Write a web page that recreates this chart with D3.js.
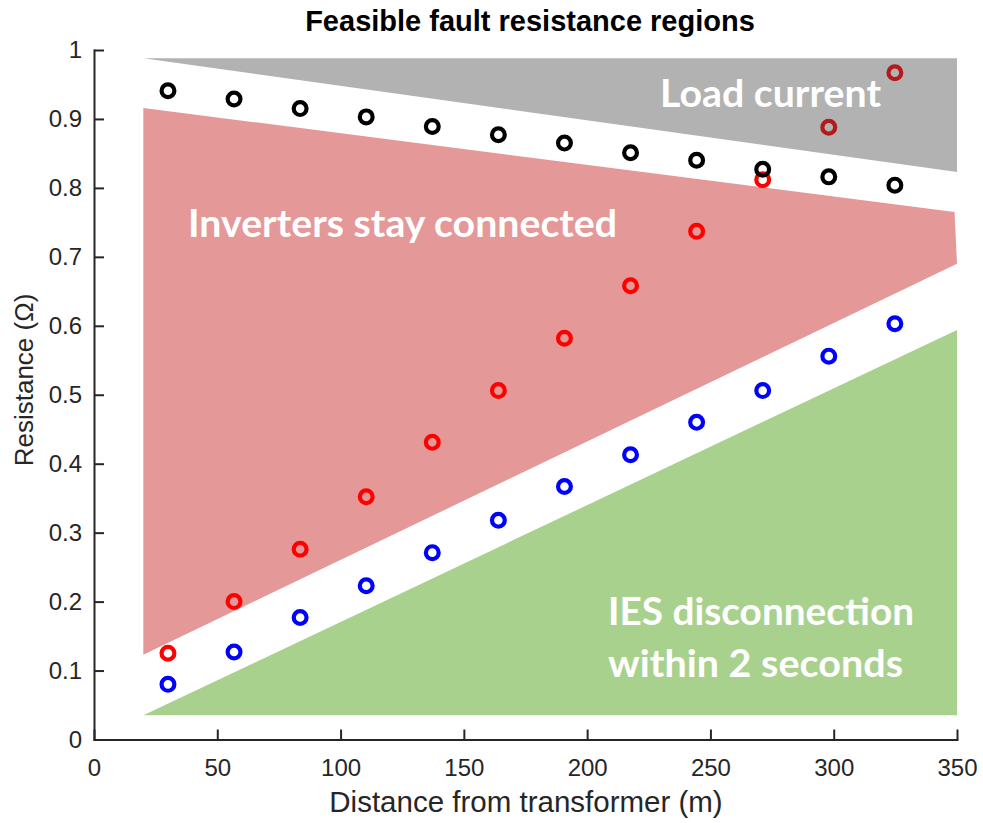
<!DOCTYPE html>
<html>
<head>
<meta charset="utf-8">
<script src="https://cdn.jsdelivr.net/npm/d3@7"></script>
<style>
  body { margin: 0; background: #fff; }
  .axis path, .axis line { stroke: #262626; stroke-width: 2px; }
  .axis text { fill: #262626; font-family: "Liberation Sans", Arial, sans-serif; font-size: 24px; }
  .region-label { fill: #fff; font-family: Lato, "Open Sans", sans-serif; font-weight: 700; }
</style>
</head>
<body>
<script>
// distances of the simulated fault points (m)
var distances = [30, 56.8, 83.6, 110.4, 137.2, 164, 190.8, 217.6, 244.4, 271.2, 298, 324.8];
// resistance thresholds (ohm)
var loadLimit = [0.941, 0.929, 0.915, 0.903, 0.889, 0.877, 0.865, 0.851, 0.840, 0.827, 0.816, 0.804];
var inverterLimit = [0.125, 0.200, 0.276, 0.352, 0.431, 0.506, 0.582, 0.658, 0.737, 0.812, 0.888, 0.967];
var iesLimit = [0.080, 0.127, 0.177, 0.223, 0.271, 0.318, 0.367, 0.413, 0.460, 0.506, 0.556, 0.603];

// shaded regions, corner points [distance, resistance]
var loadRegion = [[20, 0.988], [350, 0.988], [350, 0.823]];
var inverterRegion = [[20, 0.916], [349, 0.765], [350, 0.690], [20, 0.123]];
var iesRegion = [[20, 0.035], [350, 0.035], [350, 0.594]];

var xTicks = [0, 50, 100, 150, 200, 250, 300, 350];
var yTicks = [0, 0.1, 0.2, 0.3, 0.4, 0.5, 0.6, 0.7, 0.8, 0.9, 1];

var width = 983, height = 823;

var x = d3.scaleLinear().domain([0, 350]).range([94, 957]);
var y = d3.scaleLinear().domain([0, 1]).range([739.5, 50]);

var svg = d3.select("body").append("svg")
    .attr("width", width)
    .attr("height", height);

var area = d3.line()
    .x(function (d) { return x(d[0]); })
    .y(function (d) { return y(d[1]); });

svg.append("path").datum(loadRegion).attr("d", d => area(d) + "Z").attr("fill", "#b2b2b2");
svg.append("path").datum(inverterRegion).attr("d", d => area(d) + "Z").attr("fill", "#e49898");
svg.append("path").datum(iesRegion).attr("d", d => area(d) + "Z").attr("fill", "#a9d18e");

// region labels
var labels = [
    { text: "Load current", x: 660, y: 107, len: 221 },
    { text: "Inverters stay connected", x: 188, y: 237, len: 429 },
    { text: "IES disconnection", x: 608, y: 625, len: 306 },
    { text: "within 2 seconds", x: 608, y: 677, len: 295 }
];
svg.selectAll("text.region-label").data(labels).enter().append("text")
    .attr("class", "region-label")
    .attr("x", d => d.x)
    .attr("y", d => d.y)
    .attr("font-size", 38)
    .attr("textLength", d => d.len)
    .attr("lengthAdjust", "spacingAndGlyphs")
    .text(d => d.text);

// markers
function drawSeries(values, colorFn) {
    svg.append("g").selectAll("circle").data(values).enter().append("circle")
        .attr("cx", (d, i) => x(distances[i]))
        .attr("cy", d => y(d))
        .attr("r", 6.4)
        .attr("fill", "none")
        .attr("stroke", colorFn)
        .attr("stroke-width", 4.2);
}
drawSeries(inverterLimit, function (d) { return d > 0.85 ? "#b31b1b" : "#ff0000"; });
drawSeries(loadLimit, "#000");
drawSeries(iesLimit, "#0000ff");

// axes (MATLAB style, ticks pointing inward)
var xAxis = d3.axisBottom(x).tickValues(xTicks).tickFormat(d3.format("d"))
    .tickSizeInner(-10).tickSizeOuter(0).tickPadding(19);
var yAxis = d3.axisLeft(y).tickValues(yTicks).tickFormat(d => d === 0 || d === 1 ? d : d3.format(".1f")(d))
    .tickSizeInner(-10).tickSizeOuter(0).tickPadding(12);

svg.append("g").attr("class", "x axis")
    .attr("transform", "translate(0," + y(0) + ")")
    .call(xAxis);

svg.append("g").attr("class", "y axis")
    .attr("transform", "translate(" + x(0) + ",0)")
    .call(yAxis);

svg.selectAll(".axis path").attr("stroke-linecap", "square");

// titles
svg.append("text")
    .attr("x", 530).attr("y", 31)
    .attr("text-anchor", "middle")
    .style("font-family", "'Liberation Sans', Arial, sans-serif")
    .style("font-weight", "bold")
    .style("font-size", "29px")
    .attr("fill", "#000")
    .text("Feasible fault resistance regions");

svg.append("text")
    .attr("x", 526).attr("y", 812)
    .attr("text-anchor", "middle")
    .style("font-family", "'Liberation Sans', Arial, sans-serif")
    .style("font-size", "29.5px")
    .attr("fill", "#262626")
    .text("Distance from transformer (m)");

svg.append("text")
    .attr("transform", "translate(33,380) rotate(-90)")
    .attr("text-anchor", "middle")
    .style("font-family", "'Liberation Sans', Arial, sans-serif")
    .style("font-size", "26px")
    .attr("fill", "#262626")
    .text("Resistance (Ω)");
</script>
</body>
</html>
